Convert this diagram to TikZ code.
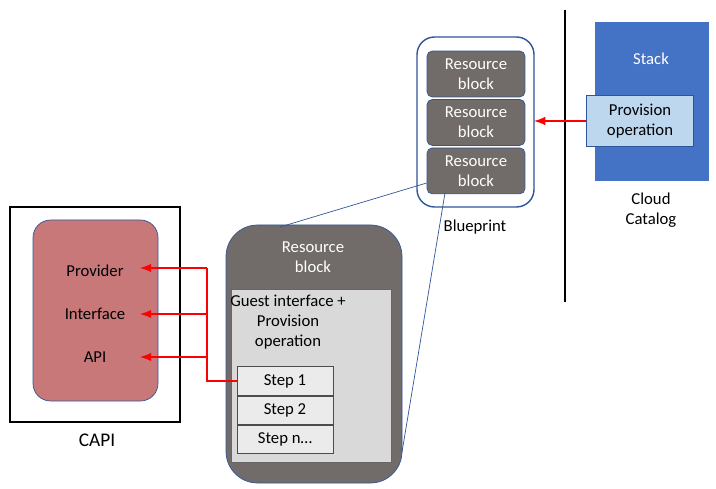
\documentclass[tikz,border=0pt]{standalone}
\usepackage{fontspec}
\setmainfont{Carlito}
\usetikzlibrary{positioning}
\definecolor{pinkfill}{RGB}{201,120,122}
\definecolor{rbgray}{RGB}{113,108,106}
\definecolor{stackblue}{RGB}{68,114,196}
\definecolor{provblue}{RGB}{189,215,238}
\definecolor{edgeblue}{RGB}{47,85,151}
\begin{document}
\begin{tikzpicture}[x=0.02cm,y=-0.02cm,
  every node/.style={font=\fontsize{9.5}{11.5}\selectfont},
  rblock/.style={draw=edgeblue,fill=rbgray,rounded corners=3pt,text=white,align=center,
    minimum width=1.96cm,minimum height=0.92cm,inner sep=0pt},
  stepbox/.style={draw=black!70,fill=black!8,minimum width=1.92cm,minimum height=0.57cm,inner sep=0pt},
  redarrow/.style={red,very thick,-latex}]
\useasboundingbox (0,0) rectangle (716,489);
% CAPI
\draw[very thick] (10,207) rectangle (180,422);
\draw[edgeblue,fill=pinkfill,rounded corners=10pt] (33,220) rectangle (158,401);
\node (capi) at (97,440) {\fontsize{11}{13}\selectfont CAPI};
\node (prov) at (95,271) {Provider};
\node (intf) at (95,314) {Interface};
\node (api) at (95,357) {API};
% big resource block
\draw[edgeblue,fill=rbgray,rounded corners=18pt] (226,225) rectangle (402,483);
\node[text=white,align=center] (bigrb) at (313,257) {Resource\\block};
\draw[black!60,fill=black!15] (231,289) rectangle (391,462);
\node[align=center] (guest) at (288,322) {Guest interface +\\Provision\\operation};
\node[stepbox] (s1) at (285,381) {Step 1};
\node[stepbox,below=0pt of s1] (s2) {Step 2};
\node[stepbox,below=0pt of s2] (sn) {Step n\dots};
% red links
\coordinate (jn) at (207,381);
\draw[red,very thick] (s1.west) -- (jn) -- (207,268);
\draw[redarrow] (207,268) -- (140,268);
\draw[redarrow] (207,314) -- (140,314);
\draw[redarrow] (207,357) -- (140,357);
% blueprint
\draw[edgeblue,thick,fill=white,rounded corners=10pt] (417,37) rectangle (534,207);
\node[rblock] (rb1) at (476,74) {Resource\\block};
\node[rblock,below=1pt of rb1] (rb2) {Resource\\block};
\node[rblock,below=1pt of rb2] (rb3) {Resource\\block};
\node (bp) at (475,227) {Blueprint};
\coordinate (za) at (280,227);
\coordinate (zb) at (402,452);
\draw[edgeblue,thin] (rb3.west |- 0,183) -- (za);
\draw[edgeblue,thin] (445,193) -- (zb);
% catalog
\draw[very thick] (565,10) -- (565,302);
\draw[fill=stackblue,draw=stackblue] (595,22) rectangle (708,180);
\node[text=white] (stack) at (651,59) {Stack};
\node[draw=edgeblue,fill=provblue,align=center,minimum width=2.14cm,minimum height=1.02cm,inner sep=0pt] (provop) at (640,121) {Provision\\operation};
\node[align=center] (cc) at (651,210) {Cloud\\Catalog};
\draw[redarrow] (provop.west) -- (534,121);
\end{tikzpicture}
\end{document}
